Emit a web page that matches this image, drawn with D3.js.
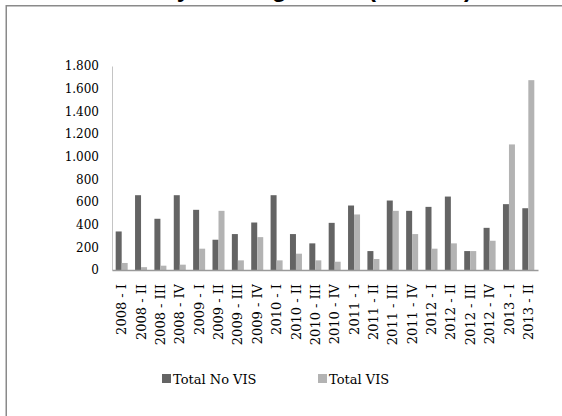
<!DOCTYPE html>
<html><head><meta charset="utf-8">
<script src="https://cdn.jsdelivr.net/npm/d3@7"></script>
<style>html,body{margin:0;padding:0;background:#fff;}svg{display:block;}</style>
</head><body>
<svg id="c" width="562" height="416"></svg>
<script>
const categories = ["2008 - I","2008 - II","2008 - III","2008 - IV","2009 - I","2009 - II","2009 - III","2009 - IV","2010 - I","2010 - II","2010 - III","2010 - IV","2011 - I","2011 - II","2011 - III","2011 - IV","2012 - I","2012 - II","2012 - III","2012 - IV","2013 - I","2013 - II"];
const seriesNames = ["Total No VIS","Total VIS"];
const totalNoVIS = [340,660,452,660,531,267,317,419,660,317,235,416,569,167,613,522,557,648,167,372,581,545];
const totalVIS = [62,25,38,47,188,522,85,290,85,144,85,73,490,97,522,317,188,235,167,258,1108,1675];
const yTicks = [0,200,400,600,800,1000,1200,1400,1600,1800];
const colors = ["#646464","#b3b3b3"];
const titleText = "Yearly Data Agencies (2008-13)";

const svg = d3.select("#c");
const serif = "'DejaVu Serif', 'Liberation Serif', serif";

// outer frame (extends beyond the picture)
svg.append("rect").attr("x",6.25).attr("y",5.75).attr("width",700).attr("height",600)
  .attr("fill","none").attr("stroke","#8a8a8a").attr("stroke-width",1.5);

// title (only its descenders are visible in the reference)
const title = svg.append("text").attr("x",0).attr("y",-3)
  .attr("font-family","'Liberation Sans', Arial, sans-serif").attr("font-weight","bold")
  .attr("font-size",24).attr("fill","#000").text(titleText);
try {
  const idx = titleText.indexOf("(");
  const px = title.node().getStartPositionOfChar(idx).x;
  title.attr("x", 368 - px);
} catch(e) { title.attr("x",150); }

const x = d3.scaleBand().domain(categories).range([112,538]).paddingInner(0.38).paddingOuter(0.19);
const xs = d3.scaleBand().domain(seriesNames).range([0,x.bandwidth()]).padding(0);
const y = d3.scaleLinear().domain([0,1800]).range([270,66]);

const data = categories.map((c,i)=>({cat:c, vals:[totalNoVIS[i], totalVIS[i]]}));

const g = svg.append("g");
g.selectAll("g.cat").data(data).join("g").attr("class","cat")
  .attr("transform",d=>`translate(${x(d.cat)},0)`)
  .selectAll("rect").data(d=>d.vals.map((v,k)=>({k,v}))).join("rect")
  .attr("x",d=>xs(seriesNames[d.k])).attr("width",xs.bandwidth())
  .attr("y",d=>y(d.v)).attr("height",d=>y(0)-y(d.v))
  .attr("fill",d=>colors[d.k]);

// y axis
const ya = svg.append("g").attr("transform","translate(112,0)")
  .call(d3.axisLeft(y).tickValues(yTicks).tickSize(0).tickPadding(13)
    .tickFormat(d=>d3.format(",")(d).replace(/,/g,".")));
ya.select(".domain").attr("stroke","#c4c4c4").attr("stroke-width",1);
ya.selectAll("text").attr("font-family",serif).attr("font-size",12).attr("fill","#000");

// x axis
const xa = svg.append("g").attr("transform","translate(0,270)")
  .call(d3.axisBottom(x).tickSize(0).tickPadding(0));
xa.select(".domain").attr("stroke","#9a9a9a").attr("stroke-width",1.5);
xa.selectAll("text").attr("font-family",serif).attr("font-size",13).attr("fill","#000")
  .attr("transform","rotate(-90)").attr("text-anchor","end")
  .attr("x",-14).attr("y",0).attr("dy","0.35em");

// legend
const legX = [162,318];
const leg = svg.append("g");
seriesNames.forEach((n,i)=>{
  leg.append("rect").attr("x",legX[i]).attr("y",374).attr("width",9).attr("height",9).attr("fill",colors[i]);
  leg.append("text").attr("x",legX[i]+11).attr("y",384).attr("font-family",serif)
    .attr("font-size",13).attr("fill","#000").text(n);
});
</script>
</body></html>
